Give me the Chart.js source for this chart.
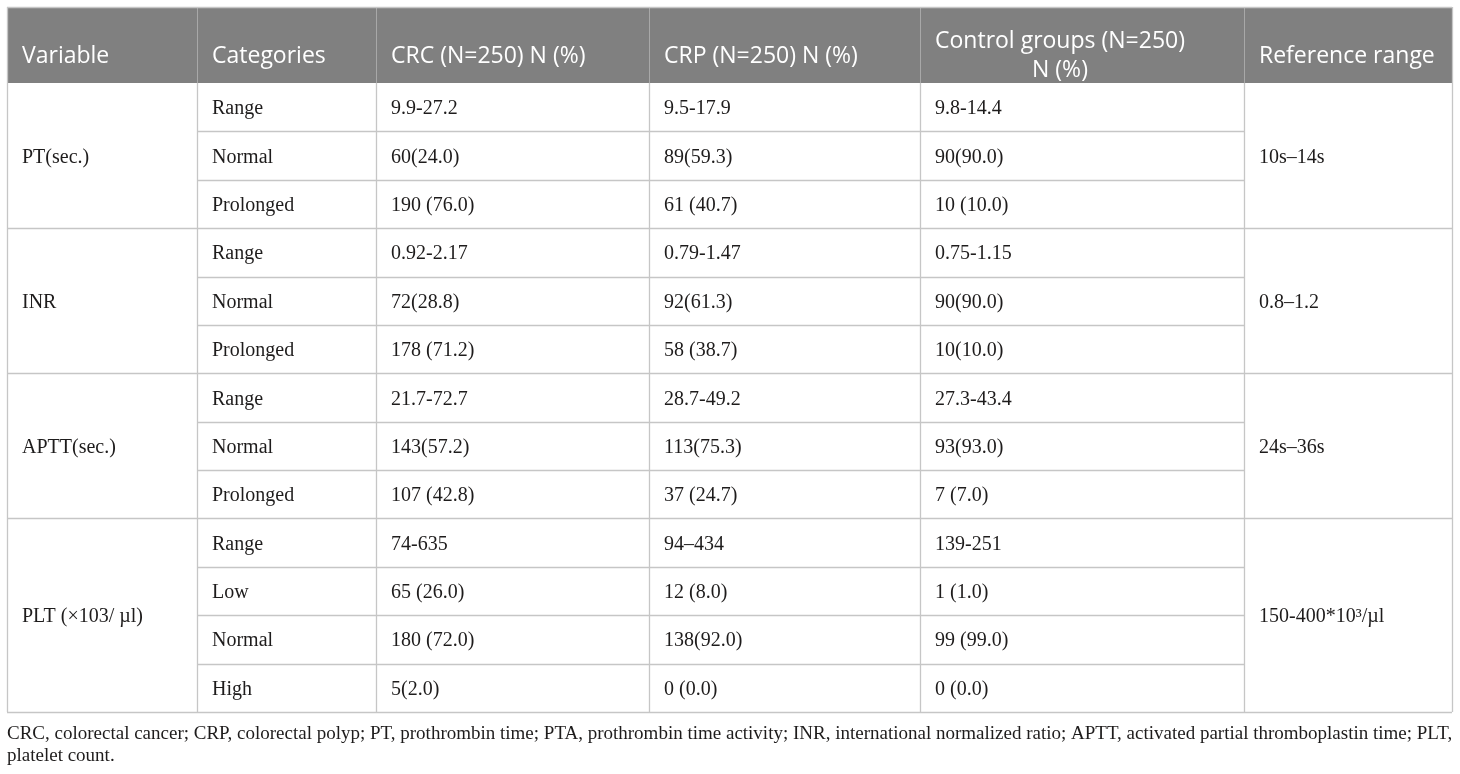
<!DOCTYPE html>
<html><head><meta charset="utf-8">
<script src="https://cdn.jsdelivr.net/npm/chart.js@4.4.1/dist/chart.umd.min.js"></script>
<style>html,body{margin:0;padding:0;background:#fff;overflow:hidden}#wrap{width:1460px;height:774px;position:relative}</style>
</head><body><div id="wrap"><canvas id="c" width="1460" height="774"></canvas></div>
<script>
// ---- data ----
const headers = ["Variable", "Categories", "CRC (N=250) N (%)", "CRP (N=250) N (%)", "Control groups (N=250)\nN (%)", "Reference range"];
const variables = ["PT(sec.)", "INR", "APTT(sec.)", "PLT (×103/ µl)"];
const categories = [
  ["Range", "Normal", "Prolonged"],
  ["Range", "Normal", "Prolonged"],
  ["Range", "Normal", "Prolonged"],
  ["Range", "Low", "Normal", "High"]
];
const crcValues = ["9.9-27.2", "60(24.0)", "190 (76.0)", "0.92-2.17", "72(28.8)", "178 (71.2)", "21.7-72.7", "143(57.2)", "107 (42.8)", "74-635", "65 (26.0)", "180 (72.0)", "5(2.0)"];
const crpValues = ["9.5-17.9", "89(59.3)", "61 (40.7)", "0.79-1.47", "92(61.3)", "58 (38.7)", "28.7-49.2", "113(75.3)", "37 (24.7)", "94–434", "12 (8.0)", "138(92.0)", "0 (0.0)"];
const controlValues = ["9.8-14.4", "90(90.0)", "10 (10.0)", "0.75-1.15", "90(90.0)", "10(10.0)", "27.3-43.4", "93(93.0)", "7 (7.0)", "139-251", "1 (1.0)", "99 (99.0)", "0 (0.0)"];
const referenceRanges = ["10s–14s", "0.8–1.2", "24s–36s", "150-400*10³/µl"];
const footnoteLines = [
  "CRC, colorectal cancer; CRP, colorectal polyp; PT, prothrombin time; PTA, prothrombin time activity; INR, international normalized ratio; APTT, activated partial thromboplastin time; PLT,",
  "platelet count."
];

// ---- layout (positions / styles, in scale units) ----
const layoutCfg = {
  colEdges: [7, 197, 376, 649, 920, 1244, 1452],
  headerTop: 7, headerBottom: 83, tableBottom: 712,
  padX: 15,
  headerFont: '23px "Open Sans"', bodyFont: '20px "Liberation Serif"', noteFont: '19px "Liberation Serif"',
  headerBg: '#808080', headerSep: '#a8a8a8', gridColor: '#c6c6c6', textColor: '#1e1c1c',
  headerBaselines: [48, 77], headerSingleBaseline: 63,
  noteX: 7, noteBaselines: [739, 761]
};

const tablePlugin = {
  id: 'tablePlugin',
  afterDraw(chart) {
    const ctx = chart.ctx, xs = chart.scales.x, ys = chart.scales.y;
    const X = v => xs.getPixelForValue(v), Y = v => ys.getPixelForValue(v);
    const L = layoutCfg, ce = L.colEdges;
    const nRows = crcValues.length;
    const rh = (L.tableBottom - L.headerBottom) / nRows;
    const rowTop = i => L.headerBottom + i * rh;
    const groupStart = []; let acc = 0;
    categories.forEach(g => { groupStart.push(acc); acc += g.length; });
    const isGroupStart = i => groupStart.includes(i);
    ctx.save();
    // header background
    ctx.fillStyle = L.headerBg;
    ctx.fillRect(X(ce[0]), Y(L.headerTop), X(ce[6]) - X(ce[0]), Y(L.headerBottom) - Y(L.headerTop));
    // header separators
    ctx.strokeStyle = L.headerSep; ctx.lineWidth = 1;
    for (let c = 1; c < 6; c++) {
      const x = Math.round(X(ce[c])) + 0.5;
      ctx.beginPath(); ctx.moveTo(x, Y(L.headerTop)); ctx.lineTo(x, Y(L.headerBottom)); ctx.stroke();
    }
    // body grid
    ctx.strokeStyle = L.gridColor; ctx.lineWidth = 1.3;
    for (let c = 0; c < 7; c++) {
      const x = Math.round(X(ce[c])) + 0.5;
      ctx.beginPath(); ctx.moveTo(x, Y(c === 0 || c === 6 ? L.headerTop : L.headerBottom)); ctx.lineTo(x, Y(L.tableBottom)); ctx.stroke();
    }
    const hl = (y, x0, x1) => { const yy = Math.round(Y(y)) + 0.5; ctx.beginPath(); ctx.moveTo(X(x0), yy); ctx.lineTo(X(x1), yy); ctx.stroke(); };
    hl(L.headerTop, ce[0], ce[6]);
    hl(L.tableBottom, ce[0], ce[6]);
    for (let i = 1; i < nRows; i++) {
      if (isGroupStart(i)) hl(rowTop(i), ce[0], ce[6]);
      else hl(rowTop(i), ce[1], ce[5]);
    }
    // header text
    ctx.fillStyle = '#ffffff'; ctx.font = L.headerFont; ctx.textAlign = 'left'; ctx.textBaseline = 'alphabetic';
    headers.forEach((h, c) => {
      const lines = h.split('\n');
      const x0 = X(ce[c] + L.padX);
      if (lines.length === 1) {
        ctx.fillText(lines[0], x0, Y(L.headerSingleBaseline));
      } else {
        const ws = lines.map(s => ctx.measureText(s).width), mw = Math.max(...ws);
        lines.forEach((s, k) => ctx.fillText(s, x0 + (mw - ws[k]) / 2, Y(L.headerBaselines[k])));
      }
    });
    // body text
    ctx.fillStyle = L.textColor; ctx.font = L.bodyFont;
    const base = (top, n) => Y(top + n * rh / 2 + 7);
    categories.forEach((g, gi) => {
      const s = groupStart[gi];
      ctx.fillText(variables[gi], X(ce[0] + L.padX), base(rowTop(s), g.length));
      ctx.fillText(referenceRanges[gi], X(ce[5] + L.padX), base(rowTop(s), g.length));
      g.forEach((cat, k) => ctx.fillText(cat, X(ce[1] + L.padX), base(rowTop(s + k), 1)));
    });
    [crcValues, crpValues, controlValues].forEach((arr, j) => {
      arr.forEach((v, i) => ctx.fillText(v, X(ce[2 + j] + L.padX), base(rowTop(i), 1)));
    });
    // footnote
    ctx.font = L.noteFont; ctx.fillStyle = L.textColor;
    footnoteLines.forEach((s, k) => ctx.fillText(s, X(L.noteX), Y(L.noteBaselines[k])));
    ctx.restore();
  }
};

new Chart(document.getElementById('c'), {
  type: 'scatter',
  data: { datasets: [{ data: [], pointRadius: 0 }] },
  options: {
    responsive: false, animation: false, devicePixelRatio: 1,
    layout: { padding: 0 },
    plugins: { legend: { display: false }, tooltip: { enabled: false } },
    scales: {
      x: { type: 'linear', min: 0, max: 1460, display: false },
      y: { type: 'linear', min: 0, max: 774, reverse: true, display: false }
    }
  },
  plugins: [tablePlugin]
});
</script></body></html>
